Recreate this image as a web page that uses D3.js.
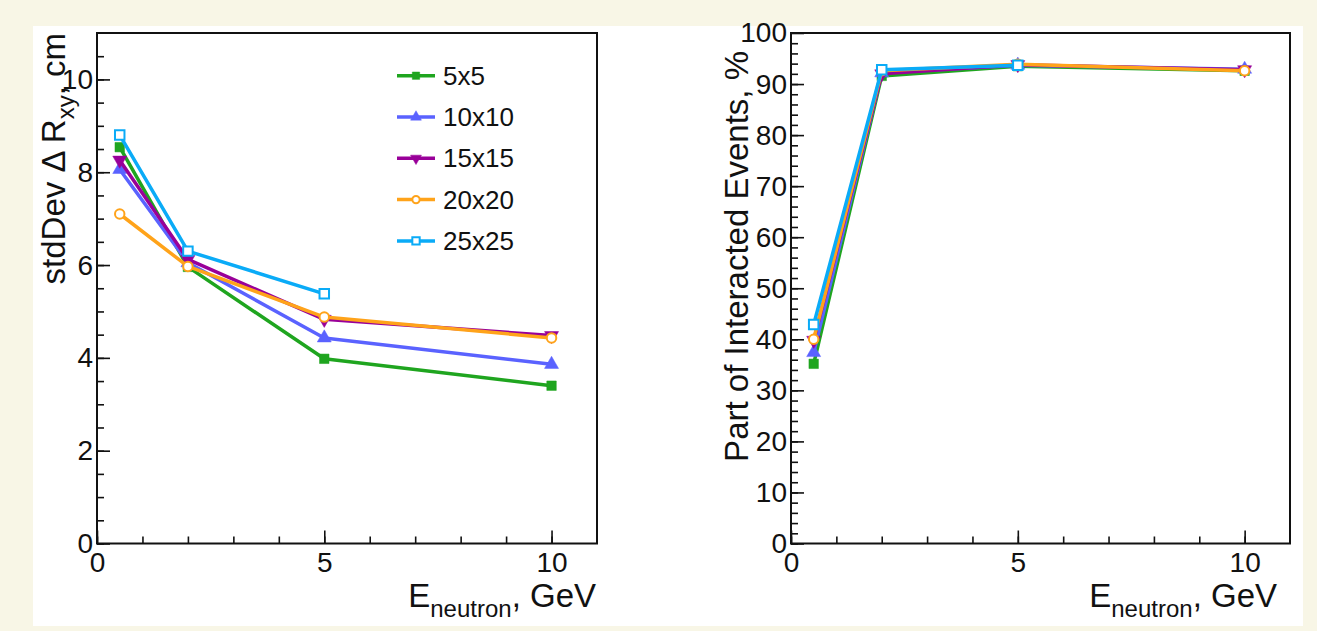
<!DOCTYPE html>
<html>
<head>
<meta charset="utf-8">
<script src="https://cdn.jsdelivr.net/npm/d3@7"></script>
<style>
  body { margin: 0; background: #f8f6e6; }
  svg { display: block; }
  text { font-family: "Liberation Sans", Arial, Helvetica, sans-serif; fill: #111; }
  .axis path { display: none; }
  .axis line { stroke: #111; stroke-width: 1.6; }
  .axis text { font-size: 28px; }
</style>
</head>
<body>
<svg id="chart" width="1317" height="631"></svg>
<script>
// ---- data ----
const energies = [0.5, 2, 5, 10];
const seriesNames = ['5x5', '10x10', '15x15', '20x20', '25x25'];

// stdDev of delta R_xy, cm
const sigma5x5   = [8.54, 5.96, 3.98, 3.40];
const sigma10x10 = [8.06, 6.05, 4.43, 3.86];
const sigma15x15 = [8.26, 6.12, 4.83, 4.48];
const sigma20x20 = [7.10, 5.97, 4.88, 4.43];
const sigma25x25 = [8.80, 6.30, 5.38];

// part of interacted events, %
const frac5x5   = [35.2, 91.6, 93.5, 92.6];
const frac10x10 = [37.4, 92.2, 93.7, 92.9];
const frac15x15 = [39.8, 92.0, 93.8, 92.8];
const frac20x20 = [40.0, 92.6, 93.9, 92.6];
const frac25x25 = [42.9, 92.8, 93.7];

const xTicks = [0, 5, 10];
const sigmaTicks = [0, 2, 4, 6, 8, 10];
const fracTicks = [0, 10, 20, 30, 40, 50, 60, 70, 80, 90, 100];

// ---- styles ----
const colors = ['#1fa51f', '#5a62ff', '#990099', '#ffa31a', '#0aabf7'];
const markers = [
  {type: d3.symbolSquare, size: 90, fill: true, rot: 0},
  {type: d3.symbolTriangle, size: 85, fill: true, rot: 0},
  {type: d3.symbolTriangle, size: 85, fill: true, rot: 180},
  {type: d3.symbolCircle, size: 70, fill: false, rot: 0},
  {type: d3.symbolSquare, size: 90, fill: false, rot: 0}
];

const svg = d3.select('#chart');

// white slide panel
svg.append('rect')
    .attr('x', 33).attr('y', 26)
    .attr('width', 1270).attr('height', 600)
    .attr('fill', '#fff');

const toSeries = (lists) => lists.map((vals, i) => ({
  name: seriesNames[i],
  color: colors[i],
  marker: markers[i],
  points: vals.map((v, j) => ({x: energies[j], y: v}))
}));

const drawMarker = (sel, m, color) => {
  sel.attr('d', d3.symbol().type(m.type).size(m.size)())
      .attr('fill', m.fill ? color : '#fff')
      .attr('stroke', color)
      .attr('stroke-width', m.fill ? 0.5 : 2);
};

const drawPanel = (opts) => {
  const x = d3.scaleLinear().domain([0, 11]).range([opts.left, opts.right]);
  const y = d3.scaleLinear().domain(opts.yDomain).range([543.5, 33]);
  const g = svg.append('g');

  // minor ticks
  g.append('g')
      .attr('class', 'axis')
      .attr('transform', `translate(0,543.5)`)
      .call(d3.axisBottom(x).tickValues(d3.range(0, 11, 1)).tickSize(-7).tickFormat(''));
  g.append('g')
      .attr('class', 'axis')
      .attr('transform', `translate(${ opts.left },0)`)
      .call(d3.axisLeft(y).tickValues(d3.range(opts.yDomain[0], opts.yDomain[1], opts.yMinor)).tickSize(-7).tickFormat(''));

  // major ticks + labels
  g.append('g')
      .attr('class', 'axis')
      .attr('transform', `translate(0,543.5)`)
      .call(d3.axisBottom(x).tickValues(xTicks).tickSize(-13).tickPadding(9));
  g.append('g')
      .attr('class', 'axis')
      .attr('transform', `translate(${ opts.left },0)`)
      .call(d3.axisLeft(y).tickValues(opts.yTicks).tickSize(-13).tickPadding(4));

  // frame
  g.append('rect')
      .attr('x', opts.left).attr('y', 33)
      .attr('width', opts.right - opts.left).attr('height', 543.5 - 33)
      .attr('fill', 'none')
      .attr('stroke', '#111')
      .attr('stroke-width', 2);

  const line = d3.line().x(d => x(d.x)).y(d => y(d.y));

  opts.series.forEach((s) => {
    g.append('path')
        .datum(s.points)
        .attr('d', line)
        .attr('fill', 'none')
        .attr('stroke', s.color)
        .attr('stroke-width', 3.5)
        .attr('stroke-linejoin', 'round');
    g.selectAll(null)
        .data(s.points)
      .enter().append('path')
        .attr('transform', d => `translate(${ x(d.x) },${ y(d.y) }) rotate(${ s.marker.rot })`)
        .call(drawMarker, s.marker, s.color);
  });

  // x title
  const xt = g.append('text')
      .attr('x', opts.xTitleEnd).attr('y', 607)
      .attr('text-anchor', 'end')
      .style('font-size', '33px');
  xt.append('tspan').text('E');
  xt.append('tspan').attr('dy', 10).style('font-size', '24px').text('neutron');
  xt.append('tspan').attr('dy', -10).text(', GeV');

  // y title
  const yt = g.append('text')
      .attr('transform', `translate(${ opts.yTitleX },${ opts.yTitleEnd }) rotate(-90)`)
      .attr('text-anchor', 'end')
      .style('font-size', '33px');
  opts.yTitle(yt);

  return {g, x, y};
};

const left = drawPanel({
  left: 97, right: 597,
  yDomain: [0, 11], yMinor: 0.5, yTicks: sigmaTicks,
  series: toSeries([sigma5x5, sigma10x10, sigma15x15, sigma20x20, sigma25x25]),
  xTitleEnd: 596, yTitleX: 65, yTitleEnd: 33,
  yTitle: (t) => {
    t.append('tspan').text('stdDev \u0394 R');
    t.append('tspan').attr('dy', 9).style('font-size', '24px').text('xy');
    t.append('tspan').attr('dy', -9).text(', cm');
  }
});

drawPanel({
  left: 791, right: 1290,
  yDomain: [0, 100], yMinor: 2, yTicks: fracTicks,
  series: toSeries([frac5x5, frac10x10, frac15x15, frac20x20, frac25x25]),
  xTitleEnd: 1277, yTitleX: 748, yTitleEnd: 51,
  yTitle: (t) => {
    t.text('Part of Interacted Events, %');
  }
});

// legend (left panel)
const legend = left.g.append('g');
seriesNames.forEach((name, i) => {
  const ly = 75.7 + i * 41.3;
  legend.append('line')
      .attr('x1', 397).attr('x2', 435)
      .attr('y1', ly).attr('y2', ly)
      .attr('stroke', colors[i])
      .attr('stroke-width', 3.5);
  legend.append('path')
      .attr('transform', `translate(416,${ ly }) rotate(${ markers[i].rot })`)
      .call(drawMarker, Object.assign({}, markers[i], {size: markers[i].size * 0.6}), colors[i]);
  legend.append('text')
      .attr('x', 443).attr('y', ly)
      .attr('dy', '0.35em')
      .style('font-size', '26px')
      .text(name);
});
</script>
</body>
</html>
